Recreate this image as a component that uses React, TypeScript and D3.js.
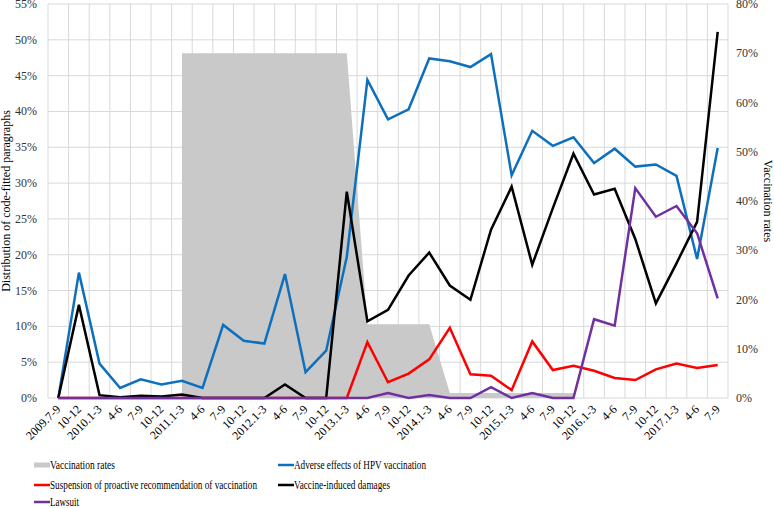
import * as React from "react"
import * as d3 from "d3"

const categories = [
  "2009.7-9", "10-12", "2010.1-3", "4-6", "7-9", "10-12", "2011.1-3", "4-6", "7-9", "10-12",
  "2012.1-3", "4-6", "7-9", "10-12", "2013.1-3", "4-6", "7-9", "10-12", "2014.1-3", "4-6",
  "7-9", "10-12", "2015.1-3", "4-6", "7-9", "10-12", "2016.1-3", "4-6", "7-9", "10-12",
  "2017.1-3", "4-6", "7-9",
]

// right axis (vaccination rates), null = no data
const vaccinationRates: (number | null)[] = [
  null, null, null, null, null, null, 0.70, 0.70, 0.70, 0.70,
  0.70, 0.70, 0.70, 0.70, 0.70, 0.15, 0.15, 0.15, 0.15, 0.01,
  0.01, 0.01, 0.01, 0.01, 0.01, 0.01, null, null, null, null,
  null, null, null,
]

const adverseEffects = [
  0, 0.175, 0.048, 0.014, 0.026, 0.019, 0.024, 0.014, 0.102, 0.080,
  0.076, 0.173, 0.036, 0.066, 0.197, 0.444, 0.389, 0.403, 0.474, 0.470,
  0.462, 0.480, 0.311, 0.373, 0.352, 0.364, 0.328, 0.348, 0.323, 0.326,
  0.310, 0.194, 0.349,
]

const suspension = [
  0, 0, 0, 0, 0, 0, 0, 0, 0, 0,
  0, 0, 0, 0, 0, 0.078, 0.022, 0.034, 0.054, 0.098,
  0.033, 0.031, 0.011, 0.079, 0.039, 0.045, 0.038, 0.028, 0.025, 0.040,
  0.048, 0.042, 0.046,
]

const vaccineDamages = [
  0, 0.130, 0.004, 0.001, 0.003, 0.002, 0.005, 0, 0, 0,
  0, 0.019, 0, 0, 0.288, 0.107, 0.123, 0.171, 0.203, 0.157,
  0.137, 0.235, 0.295, 0.186, 0.265, 0.341, 0.284, 0.292, 0.222, 0.132,
  0.188, 0.246, 0.511,
]

const lawsuit = [
  0, 0, 0, 0, 0, 0, 0, 0, 0, 0,
  0, 0, 0, 0, 0, 0, 0.007, 0, 0.004, 0,
  0, 0.015, 0, 0.007, 0, 0, 0.110, 0.101, 0.293, 0.253,
  0.268, 0.230, 0.139,
]

const leftTicks = [0, 0.05, 0.1, 0.15, 0.2, 0.25, 0.3, 0.35, 0.4, 0.45, 0.5, 0.55]
const rightTicks = [0, 0.1, 0.2, 0.3, 0.4, 0.5, 0.6, 0.7, 0.8]

const lineSeries = [
  { name: "Adverse effects of HPV vaccination", values: adverseEffects, color: "#0E70BD" },
  { name: "Suspension of proactive recommendation of vaccination", values: suspension, color: "#FF0000" },
  { name: "Vaccine-induced damages", values: vaccineDamages, color: "#000000" },
  { name: "Lawsuit", values: lawsuit, color: "#7030A0" },
]

const font = "'Liberation Serif', 'Times New Roman', serif"

export default function App() {
  const width = 774
  const height = 508
  const margin = { top: 4, right: 46, bottom: 110, left: 48 }
  const plotBottom = height - margin.bottom

  const x = d3
    .scaleBand<number>()
    .domain(d3.range(categories.length))
    .range([margin.left, width - margin.right])
  const cx = (i: number) => (x(i) as number) + x.bandwidth() / 2

  const yLeft = d3.scaleLinear().domain([0, 0.55]).range([plotBottom, margin.top])
  const yRight = d3.scaleLinear().domain([0, 0.8]).range([plotBottom, margin.top])

  const area = d3
    .area<number | null>()
    .defined((d) => d != null)
    .x((_, i) => cx(i))
    .y0(yRight(0))
    .y1((d) => yRight(d as number))

  const line = d3
    .line<number>()
    .x((_, i) => cx(i))
    .y((d) => yLeft(d))

  const fmt = d3.format(".0%")
  const gridColor = "#D9D9D9"

  // legend layout: col, row, text width
  const legendItems = [
    { name: "Vaccination rates", type: "area", color: "#C9C9C9", col: 0, row: 0, w: 65 },
    { ...lineSeries[0], type: "line", col: 1, row: 0, w: 132 },
    { ...lineSeries[1], type: "line", col: 0, row: 1, w: 207 },
    { ...lineSeries[2], type: "line", col: 1, row: 1, w: 96 },
    { ...lineSeries[3], type: "line", col: 0, row: 2, w: 29 },
  ]
  const legendX = [34, 278]
  const legendY = [465, 485, 502]

  return (
    <div style={{ position: "absolute", left: 0, top: 0 }}>
      <svg width={width} height={height} style={{ fontFamily: font, display: "block", background: "#fff" }}>
        {/* grid */}
        <g>
          {leftTicks.map((t) => (
            <line key={"h" + t} x1={margin.left} x2={width - margin.right} y1={yLeft(t)} y2={yLeft(t)} stroke={gridColor} />
          ))}
          {d3.range(categories.length + 1).map((i) => {
            const xx = margin.left + i * x.bandwidth()
            return <line key={"v" + i} x1={xx} x2={xx} y1={margin.top} y2={plotBottom} stroke={gridColor} />
          })}
        </g>

        <path d={area(vaccinationRates) ?? ""} fill="#C9C9C9" />

        {lineSeries.map((s) => (
          <path key={s.name} d={line(s.values) ?? ""} fill="none" stroke={s.color} strokeWidth={2.5} strokeLinejoin="miter" />
        ))}

        {/* left axis */}
        <g fontSize={12} fill="#333">
          {leftTicks.map((t) => (
            <text key={t} x={37} y={yLeft(t) + 4} textAnchor="end">{fmt(t)}</text>
          ))}
        </g>
        {/* right axis */}
        <g fontSize={12} fill="#333">
          {rightTicks.map((t) => (
            <text key={t} x={736} y={yRight(t) + 4} textAnchor="start">{fmt(t)}</text>
          ))}
        </g>
        {/* x axis labels */}
        <g fontSize={12} fill="#000">
          {categories.map((c, i) => (
            <text key={i} transform={`translate(${cx(i)},${plotBottom + 9}) rotate(-45)`} textAnchor="end" dy="0.35em">
              {c}
            </text>
          ))}
        </g>

        <text transform={`translate(10,${(margin.top + plotBottom) / 2}) rotate(-90)`} textAnchor="middle" fontSize={12}>
          Distribution of code-fitted paragraphs
        </text>
        <text transform={`translate(764,${(margin.top + plotBottom) / 2}) rotate(90)`} textAnchor="middle" fontSize={12}>
          Vaccination rates
        </text>

        {/* legend */}
        <g>
          {legendItems.map((it) => {
            const lx = legendX[it.col]
            const ly = legendY[it.row]
            return (
              <g key={it.name}>
                {it.type === "area" ? (
                  <rect x={lx} y={ly - 2.5} width={16} height={5} fill={it.color} />
                ) : (
                  <line x1={lx} x2={lx + 16} y1={ly} y2={ly} stroke={it.color} strokeWidth={2.5} />
                )}
                <text x={lx + 16} y={ly + 4} fontSize={12.5} textLength={it.w} lengthAdjust="spacingAndGlyphs">
                  {it.name}
                </text>
              </g>
            )
          })}
        </g>
      </svg>
    </div>
  )
}
